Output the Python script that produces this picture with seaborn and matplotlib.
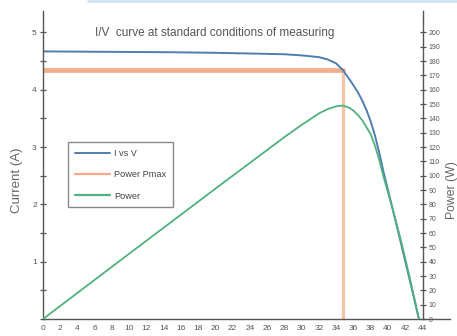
import matplotlib
matplotlib.use("Agg")
import matplotlib.pyplot as plt
from matplotlib.lines import Line2D
from matplotlib.ticker import MultipleLocator
import pandas as pd
import seaborn as sns

# Module I-V characteristic at STC
voltage = [0, 5, 10, 15, 20, 25, 28, 30, 32, 33, 34, 34.8, 35.5, 36, 36.5,
           37, 37.5, 38, 38.5, 39, 39.5, 40.5, 41.5, 42.5, 43.6]
current = [4.67, 4.665, 4.66, 4.655, 4.645, 4.63, 4.62, 4.60, 4.57, 4.53,
           4.46, 4.34, 4.19, 4.08, 3.96, 3.82, 3.65, 3.45, 3.20, 2.90, 2.56,
           1.95, 1.33, 0.70, 0.0]
power = [0, 22.8, 45.6, 68.3, 91.0, 113.5, 127.0, 135.5, 143.5, 146.5,
         148.5, 149.0, 147.5, 145.5, 142.5, 139.0, 134.0, 129.0, 121.0,
         111.0, 99.0, 78.0, 55.0, 29.5, 0]

# Maximum power point
v_mpp = 34.8
i_mpp = 4.34

x_ticks = list(range(0, 46, 2))
p_ticks = list(range(0, 210, 10))
i_ticks = [1, 2, 3, 4, 5]

title = "I/V  curve at standard conditions of measuring"
series_names = ["I vs V", "Power Pmax", "Power"]

df = pd.DataFrame({"V": voltage, "I": current, "P": power})
mpp_h = pd.DataFrame({"V": [0, v_mpp], "I": [i_mpp, i_mpp]})
mpp_v = pd.DataFrame({"V": [v_mpp, v_mpp], "I": [i_mpp, 0]})

sns.set_style("white")
plt.rcParams["font.family"] = ["Liberation Sans", "DejaVu Sans"]

c_iv = "#4f7db0"
c_pm = "#f4a988"
c_pm_v = "#f6c4a6"
c_pw = "#4fb27e"
c_axis = "#555555"
c_text = "#555555"

line_kw = dict(sort=False, estimator=None, errorbar=None)

fig = plt.figure(figsize=(4.57, 3.36), dpi=100)
ax = fig.add_axes([43 / 457, 1 - 319 / 336, (450 - 43) / 457, (319 - 11) / 336])

sns.lineplot(data=mpp_v, x="V", y="I", ax=ax, color=c_pm_v, lw=2.4, **line_kw)
sns.lineplot(data=mpp_h, x="V", y="I", ax=ax, color=c_pm, lw=3.4,
             alpha=0.95, **line_kw)
sns.lineplot(data=df, x="V", y="I", ax=ax, color=c_iv, lw=1.4, **line_kw)

ax.set_xlim(0, 47.2)
ax.set_ylim(0, 5.375)
ax.set_xticks(x_ticks)
ax.set_yticks(i_ticks)
ax.yaxis.set_minor_locator(MultipleLocator(0.5))
ax.set_xlabel("")
ax.set_ylabel("Current (A)", fontsize=9.5, color="#666666")
ax.yaxis.set_label_coords(-0.05, 0.45)

for s in ("top", "right"):
    ax.spines[s].set_visible(False)
for s in ("left", "bottom"):
    ax.spines[s].set_color(c_axis)
    ax.spines[s].set_linewidth(1.0)

ax.tick_params(axis="both", which="both", direction="inout", colors=c_axis,
               labelcolor=c_text, labelsize=6, width=0.9)
ax.tick_params(axis="both", which="major", length=5, pad=2)
ax.tick_params(axis="y", which="minor", length=4, left=True)

ax2 = ax.twinx()
sns.lineplot(data=df, x="V", y="P", ax=ax2, color=c_pw, lw=1.3, **line_kw)
ax2.set_ylim(0, 215)
ax2.set_yticks(p_ticks)
ax2.set_ylabel("Power (W)", fontsize=8.8, color="#666666")
ax2.yaxis.set_label_coords(0.99, 0.42)
ax2.spines["right"].set_position(("data", 44.1))
for s in ("top", "left", "bottom"):
    ax2.spines[s].set_visible(False)
ax2.spines["right"].set_color(c_axis)
ax2.spines["right"].set_linewidth(1.0)
ax2.tick_params(axis="y", direction="inout", colors=c_axis, labelcolor=c_text,
                labelsize=5, length=4, width=0.9, pad=2)

ax.text(0.128, 0.93, title, transform=ax.transAxes, fontsize=8.5,
        color="#555555", ha="left", va="center")

handles = [Line2D([], [], color=c_iv, lw=1.4),
           Line2D([], [], color=c_pm, lw=1.6),
           Line2D([], [], color=c_pw, lw=1.6)]
leg = ax.legend(handles, series_names, loc="upper left",
                bbox_to_anchor=(0.061, 0.575), borderaxespad=0, fontsize=6.6,
                handlelength=3.9, handletextpad=0.4, labelspacing=1.35,
                borderpad=0.75, fancybox=False, framealpha=1)
leg.get_frame().set_edgecolor("#888888")
leg.get_frame().set_linewidth(1.0)
for t in leg.get_texts():
    t.set_color("#444444")

fig.add_artist(Line2D([88 / 457, 1], [1 - 0.8 / 336] * 2,
                      transform=fig.transFigure, color="#cfe0f4", lw=1.8))

fig.savefig("out.png", dpi=100)
